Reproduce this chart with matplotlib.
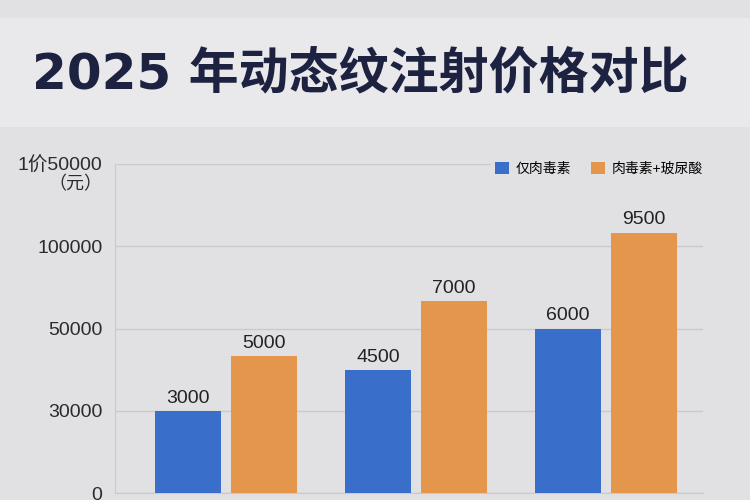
import numpy as np
import matplotlib
matplotlib.use('Agg')
import matplotlib.pyplot as plt
from matplotlib.patches import Rectangle

plt.rcParams['font.family'] = ['Liberation Sans', 'Noto Sans CJK SC']

# data
groups = ['A', 'B', 'C']
botox_only = [3000, 4500, 6000]
botox_plus_ha = [5000, 7000, 9500]
series_names = ['仅肉毒素', '肉毒素+玻尿酸']
tick_labels = ['0', '30000', '50000', '100000', '1价50000']

bg = '#e1e1e4'
blue = '#396ecb'
orange = '#e4964c'
grid = '#c9c9ce'

fig = plt.figure(figsize=(7.5, 5), dpi=100, facecolor=bg)

# lighter title band
fig.patches.append(Rectangle((0, 1 - 127/500.), 1, 109/500., transform=fig.transFigure,
                             facecolor='#e9e9ec', edgecolor='none', zorder=0))
fig.text(32/750., 1 - 74/500., '2025 年动态纹注射价格对比', fontsize=36, fontweight='bold',
         family=['DejaVu Sans', 'Noto Sans CJK SC'],
         color='#1d2240', ha='left', va='center')

ax = fig.add_axes([115/750., 7/500., 588/750., 329/500.])
ax.set_facecolor(bg)

x = np.arange(len(groups))
w = 0.35
off = 0.2
b1 = ax.bar(x - off, botox_only, w, color=blue, label=series_names[0], zorder=3)
b2 = ax.bar(x + off, botox_plus_ha, w, color=orange, label=series_names[1], zorder=3)

for bars in (b1, b2):
  for r in bars:
    ax.text(r.get_x() + r.get_width()/2., r.get_height() + 150, '%d' % r.get_height(),
            ha='center', va='bottom', fontsize=14, color='#222222', zorder=4)

ax.set_xlim(-0.584, 2.51)
ax.set_ylim(0, 12000)
ax.set_yticks(np.linspace(0, 12000, len(tick_labels)))
ax.set_yticklabels(tick_labels, fontsize=14, color='#2b2b2b')
ax.tick_params(axis='y', length=0, pad=9)
ax.set_xticks([])
ax.grid(axis='y', color=grid, linewidth=1, zorder=0)

for s in ['top', 'right']:
  ax.spines[s].set_visible(False)
ax.spines['left'].set_color(grid)
ax.spines['bottom'].set_color(grid)

fig.text(75/750., 1 - 185/500., '（元）', fontsize=13, color='#2b2b2b', ha='center', va='center')

leg = ax.legend(loc='center right', bbox_to_anchor=(714/750., 1 - 169/500.),
                bbox_transform=fig.transFigure, ncol=2, frameon=True, fontsize=10,
                handlelength=1.0, handleheight=1.0, handletextpad=0.5, columnspacing=1.4,
                borderpad=0.3)
leg.get_frame().set_facecolor(bg)
leg.get_frame().set_edgecolor('none')
leg.get_frame().set_alpha(1)

plt.savefig('out.png', dpi=100, facecolor=bg)
